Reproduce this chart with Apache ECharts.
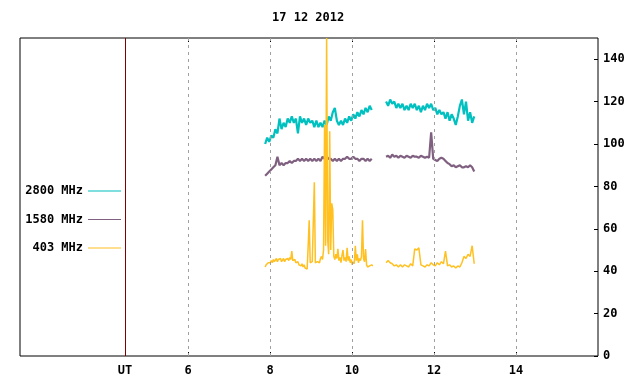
<!DOCTYPE html>
<html>
<head>
<meta charset="utf-8">
<script src="https://cdn.jsdelivr.net/npm/echarts@6/dist/echarts.min.js"></script>
<style>
  html, body { margin: 0; padding: 0; background: #fff; }
  #main { width: 640px; height: 384px; }
</style>
</head>
<body>
<div id="main"></div>
<script>
// x positions in UT hours, values in sfu-like units
const startA = 7.88, startB = 10.83, gapAt = 10.66;
const step = 0.05, fineStep = 0.025;

const xTicks = [4.46, 6, 8, 10, 12, 14];
const xTickLabels = ['UT', '6', '8', '10', '12', '14'];
const yTicks = [0, 20, 40, 60, 80, 100, 120, 140];
const names = ['2800 MHz', '1580 MHz', '403 MHz'];

const tealA = [100, 103, 101, 104, 103, 107, 105, 112, 107, 110, 108, 112, 110, 113, 110, 112, 105, 113, 110, 112,
  109, 112, 110, 111, 108, 111, 108, 110, 108, 111, 109, 113, 111, 115, 117, 111, 109, 111, 109, 112,
  110, 113, 111, 114, 112, 115, 113, 116, 114, 117, 115, 118, 116];
const tealB = [120, 118, 121, 119, 120, 117, 119, 117, 119, 116, 118, 116, 119, 117, 119, 116, 118, 115, 118, 116,
  119, 117, 119, 116, 117, 114, 116, 114, 115, 112, 115, 111, 114, 112, 109, 113, 118, 121, 114, 120,
  111, 115, 110, 113];
const purpleA = [85, 86, 87, 88, 89, 90, 94, 90, 91, 90, 91, 91, 92, 91, 92, 92, 93, 92, 93, 92,
  93, 92, 93, 92, 93, 92, 93, 92, 94, 93, 94, 93, 93, 92, 93, 92, 93, 92, 93, 93,
  94, 93, 93, 94, 93, 93, 92, 93, 93, 92, 93, 92, 93];
const purpleB = [94, 94.5, 93.5, 95, 94, 94.5, 93.5, 94.5, 94, 93.5, 94.5, 94, 93.5, 94.5, 94, 94, 93.5, 94.5, 94, 93.5,
  94, 93.5, 105.5, 93, 92.5, 92, 93, 93.5, 93, 92, 91, 90.5, 89.5, 90, 89, 89.5, 90, 89, 89, 89.5,
  89, 90, 89, 87];
const orangeA = [42, 43, 42.5, 44, 43.5, 44, 45, 44, 45.5, 44.5, 45, 46, 44.5, 45.5, 45, 46, 44.5, 45, 46, 44.5,
  45.5, 45, 46, 45, 46.5, 45.5, 49.5, 45, 44.5, 45.5, 44, 43.5, 44.5, 43, 43.5, 42.5, 43.5, 42, 43, 41.5,
  42, 41, 52, 64, 44, 43.5, 44.5, 44, 82, 44, 43.5, 44.5, 45, 44, 46, 47, 45.5, 50, 109, 52,
  150, 55, 48, 106, 50, 72, 69, 47, 45.5, 48, 46, 50.5, 45, 46.5, 44, 47.5, 50, 45, 46.5, 44.5,
  51, 45, 47, 44, 45.5, 43, 44.5, 43.5, 52, 45, 48, 44, 46, 45, 47, 64, 46, 44.5, 50.5, 43,
  42, 41.5, 42.5, 42, 43, 42.5];
const orangeB = [44, 45, 44, 43.5, 42.5, 43, 42, 43, 42, 43, 42.5, 42, 43.5, 42.5, 50.5, 50, 51, 43, 42.5, 42,
  43, 42.5, 44, 43, 42.5, 44, 43, 44.5, 43.5, 49.5, 42.5, 43, 42, 42.5, 41.5, 42.5, 42, 44, 47, 46,
  48, 47, 52, 43.5];

function pairs(t0, dt, vals) {
  return vals.map((v, i) => [+(t0 + i * dt).toFixed(3), v]);
}
function joined(a, dtA, b, dtB) {
  return pairs(startA, dtA, a).concat([[gapAt, '-']], pairs(startB, dtB, b));
}

const font = { fontFamily: 'DejaVu Sans Mono', fontWeight: 'bold', fontSize: 12, color: '#000' };

const chart = echarts.init(document.getElementById('main'));
const option = {
  animation: false,
  backgroundColor: '#fff',
  title: {
    text: '17 12 2012',
    left: 272, top: 12, padding: 0,
    textStyle: font
  },
  legend: {
    data: names,
    orient: 'vertical',
    align: 'right',
    left: 25, top: 184,
    padding: 0,
    itemGap: 14.5,
    itemWidth: 33, itemHeight: 1,
    icon: 'rect',
    textStyle: Object.assign({ width: 58, align: 'right', lineHeight: 14 }, font)
  },
  grid: {
    left: 20, right: 42, top: 38, bottom: 28,
    show: true, borderColor: '#000', borderWidth: 1
  },
  xAxis: [{
    type: 'value', min: 1.9, max: 16,
    axisLine: { show: false },
    splitLine: { show: false },
    axisTick: { inside: true, length: 4, lineStyle: { color: '#000' }, customValues: xTicks.slice(1) },
    axisLabel: Object.assign({
      margin: 9,
      customValues: xTicks,
      formatter: v => xTickLabels[xTicks.indexOf(v)] ?? ''
    }, font)
  }, {
    type: 'value', min: 1.9, max: 16, position: 'top',
    axisLine: { show: false },
    splitLine: { show: false },
    axisTick: { inside: true, length: 4, lineStyle: { color: '#000' }, customValues: xTicks.slice(1) },
    axisLabel: { show: false }
  }],
  yAxis: {
    type: 'value', min: 0, max: 150, position: 'right',
    axisLine: { show: false },
    splitLine: { show: false },
    axisTick: { show: true, inside: true, length: 4, lineStyle: { color: '#000' }, customValues: yTicks },
    axisLabel: Object.assign({ margin: 5, customValues: yTicks }, font)
  },
  series: [
    {
      name: 'grid', type: 'line', data: [], silent: true, z: 1,
      markLine: {
        silent: true, symbol: 'none', label: { show: false },
        lineStyle: { color: '#a0a0a0', type: [3, 4], width: 1 },
        data: xTicks.slice(1).map(v => ({ xAxis: v }))
      }
    },
    {
      name: 'ut', type: 'line', data: [], silent: true, z: 1,
      markLine: {
        silent: true, symbol: 'none', label: { show: false },
        lineStyle: { color: '#800000', type: 'solid', width: 1 },
        data: [{ xAxis: xTicks[0] }]
      }
    },
    {
      name: names[0], type: 'line', z: 3, showSymbol: false, connectNulls: false,
      color: '#00c0c0', lineStyle: { width: 2.2 },
      data: joined(tealA, step, tealB, step)
    },
    {
      name: names[1], type: 'line', z: 3, showSymbol: false, connectNulls: false,
      color: '#806080', lineStyle: { width: 2.2 },
      data: joined(purpleA, step, purpleB, step)
    },
    {
      name: names[2], type: 'line', z: 3, showSymbol: false, connectNulls: false,
      color: '#ffc020', lineStyle: { width: 1.5 },
      data: joined(orangeA, fineStep, orangeB, step)
    }
  ]
};
chart.setOption(option);
</script>
</body>
</html>
